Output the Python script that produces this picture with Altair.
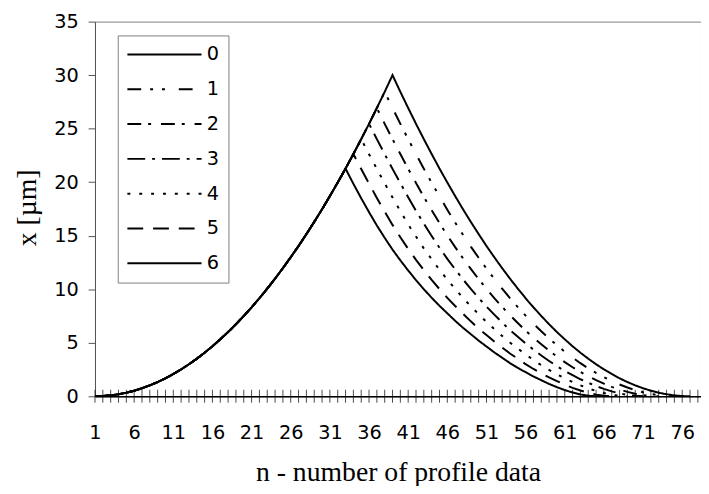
import altair as alt
import pandas as pd

series_names = ["0", "1", "2", "3", "4", "5", "6"]

# shared rising flank, n = 1..39
rise = [0.00, 0.02, 0.08, 0.19, 0.33, 0.52, 0.75, 1.02, 1.33, 1.68,
        2.08, 2.51, 2.99, 3.51, 4.07, 4.67, 5.32, 6.00, 6.73, 7.50,
        8.31, 9.16, 10.06, 10.99, 11.97, 12.99, 14.04, 15.15, 16.29, 17.47,
        18.70, 19.97, 21.27, 22.63, 24.02, 25.45, 26.93, 28.44, 30.00]

# n at which each series leaves the rising flank
peak_n = [39, 38, 37, 36, 35, 34, 33]

# falling flanks, starting one step after each peak
fall0 = [28.44, 26.93, 25.45, 24.02, 22.63, 21.27, 19.97, 18.70, 17.47, 16.29,
         15.15, 14.04, 12.99, 11.97, 10.99, 10.06, 9.16, 8.31, 7.50, 6.73,
         6.00, 5.32, 4.67, 4.07, 3.51, 2.99, 2.51, 2.08, 1.68, 1.33,
         1.02, 0.75, 0.52, 0.33, 0.19, 0.08, 0.02, 0.00]
fall1 = [26.93, 25.45, 24.02, 22.63, 21.26, 19.95, 18.67, 17.43, 16.23,
         15.09, 13.98, 12.94, 11.93, 10.97, 10.05, 9.17, 8.33, 7.54, 6.78,
         6.07, 5.40, 4.76, 4.17, 3.61, 3.09, 2.61, 2.18, 1.78, 1.42,
         1.10, 0.82, 0.58, 0.37, 0.22, 0.10, 0.03, 0.00]
fall2 = [25.45, 24.02, 22.63, 21.25, 19.93, 18.63, 17.38, 16.18,
         15.03, 13.93, 12.89, 11.90, 10.94, 10.04, 9.17, 8.36, 7.58, 6.84,
         6.13, 5.48, 4.85, 4.26, 3.71, 3.19, 2.71, 2.27, 1.87, 1.50,
         1.18, 0.88, 0.63, 0.41, 0.24, 0.11, 0.03, 0.00]
fall3 = [24.02, 22.62, 21.24, 19.91, 18.60, 17.33, 16.12,
         14.97, 13.87, 12.84, 11.86, 10.92, 10.03, 9.18, 8.38, 7.63, 6.89,
         6.20, 5.56, 4.94, 4.36, 3.81, 3.30, 2.81, 2.37, 1.97, 1.59,
         1.26, 0.95, 0.69, 0.46, 0.27, 0.13, 0.04, 0.00]
fall4 = [22.61, 21.24, 19.89, 18.57, 17.29, 16.06,
         14.92, 13.81, 12.80, 11.82, 10.90, 10.02, 9.19, 8.40, 7.67, 6.94,
         6.27, 5.64, 5.02, 4.46, 3.90, 3.40, 2.90, 2.46, 2.06, 1.68,
         1.34, 1.02, 0.74, 0.50, 0.30, 0.14, 0.04, 0.00]
fall5 = [21.23, 19.87, 18.53, 17.25, 16.01,
         14.86, 13.76, 12.75, 11.79, 10.87, 10.01, 9.19, 8.43, 7.71, 7.00,
         6.33, 5.72, 5.11, 4.55, 4.00, 3.50, 3.00, 2.55, 2.15, 1.76,
         1.42, 1.08, 0.79, 0.54, 0.32, 0.15, 0.05, 0.00]
fall6 = [19.85, 18.50, 17.20, 15.95,
         14.80, 13.70, 12.70, 11.75, 10.85, 10.00, 9.20, 8.45, 7.75, 7.05,
         6.40, 5.80, 5.20, 4.65, 4.10, 3.60, 3.10, 2.65, 2.25, 1.85,
         1.50, 1.15, 0.85, 0.58, 0.35, 0.17, 0.05, 0.00]
falls = [fall0, fall1, fall2, fall3, fall4, fall5, fall6]

tick_n = list(range(1, 79))
label_n = [1, 6, 11, 16, 21, 26, 31, 36, 41, 46, 51, 56, 61, 66, 71, 76]

dashes = [[1, 0], [14, 9, 3, 9, 3, 14], [14, 7, 3, 10], [18, 7, 3, 7],
          [3, 9], [16, 10], [1, 0]]

rows = []
for name, pk, fl in zip(series_names, peak_n, falls):
    for i in range(pk):
        rows.append({"series": name, "n": i + 1, "x": rise[i]})
    for j, v in enumerate(fl):
        rows.append({"series": name, "n": pk + 1 + j, "x": v})
df = pd.DataFrame(rows)
ticks_df = pd.DataFrame({"n": tick_n, "x": [0] * len(tick_n)})

xscale = alt.Scale(domain=[1, 78.4], nice=False, zero=False)
yscale = alt.Scale(domain=[0, 35], nice=False)

lines = alt.Chart(df).mark_line(color="black", strokeWidth=2, clip=True).encode(
    x=alt.X("n:Q", scale=xscale,
            axis=alt.Axis(values=label_n, ticks=False, tickSize=0, grid=False,
                          labelFont="DejaVu Sans", labelFontSize=19.5, labelColor="black",
                          labelPadding=28, labelFlush=False,
                          domainColor="black", domainWidth=1.5,
                          title="n - number of profile data",
                          titleFont="Liberation Serif", titleFontSize=28,
                          titleFontWeight="normal", titleColor="black",
                          titleBaseline="alphabetic", titleY=85)),
    y=alt.Y("x:Q", scale=yscale,
            axis=alt.Axis(values=[0, 5, 10, 15, 20, 25, 30, 35], grid=False,
                          tickSize=7, tickColor="#555555", domainColor="#555555",
                          labelFont="DejaVu Sans", labelFontSize=19.5, labelColor="black",
                          labelPadding=10,
                          title="x [µm]", titleFont="Liberation Serif", titleFontSize=28,
                          titleFontWeight="normal", titleColor="black",
                          titleAngle=270, titleAlign="center", titleBaseline="middle",
                          titleX=-68, titleY=188)),
    strokeDash=alt.StrokeDash("series:N",
                              scale=alt.Scale(domain=series_names, range=dashes),
                              legend=alt.Legend(orient="none", legendX=23, legendY=14,
                                                title=None,
                                                symbolType="M-5,0H5", symbolSize=225,
                                                symbolOffset=28,
                                                symbolStrokeWidth=2, symbolStrokeColor="black",
                                                labelFont="DejaVu Sans", labelFontSize=19.5,
                                                labelColor="black", labelOffset=33,
                                                rowPadding=14.2, padding=9.5,
                                                strokeColor="#7f7f7f", fillColor="white")),
    order=alt.Order("n:Q"),
)

ticks = alt.Chart(ticks_df).mark_tick(orient="vertical", size=13, thickness=1,
                                      color="black").encode(
    x=alt.X("n:Q", scale=xscale),
    y=alt.Y("x:Q", scale=yscale),
)

chart = alt.layer(ticks, lines).properties(
    width=613, height=379,
    autosize=alt.AutoSizeParams(type="none"),
    padding={"left": 88, "top": 11, "right": 0, "bottom": 88},
).configure_view(stroke="#808080", strokeWidth=1)

chart.save("out.html", embed_options={"renderer": "svg", "actions": False})
